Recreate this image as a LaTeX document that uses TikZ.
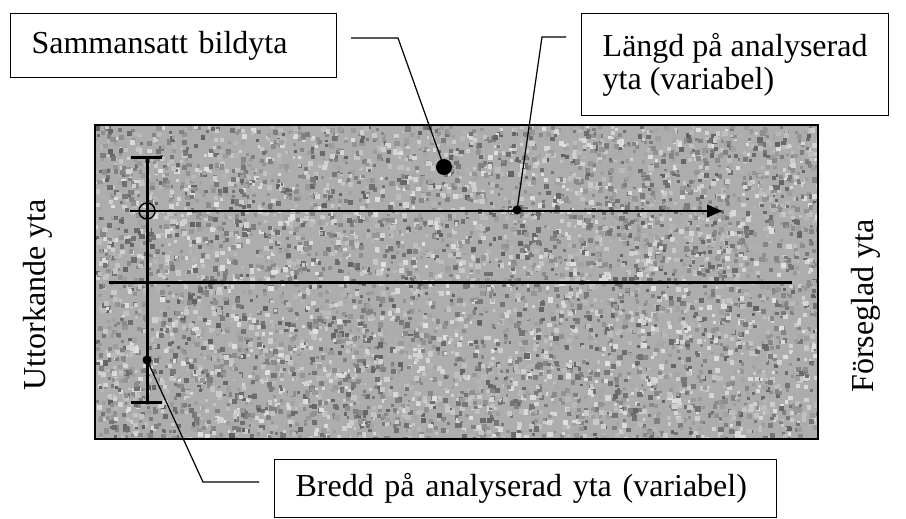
\documentclass[tikz,border=0pt]{standalone}
\usepackage{fontspec}
\setmainfont{Liberation Serif}
\usetikzlibrary{arrows.meta,positioning}

\begin{document}
\begin{tikzpicture}[x=1pt, y=-1pt,
    labelbox/.style={draw, line width=1.2pt, anchor=north west, align=left,
        inner xsep=21pt, font=\fontsize{32}{33}\selectfont},
    leader/.style={line width=1.2pt},
    sidetext/.style={rotate=90, font=\fontsize{32}{33}\selectfont}]

% Fix the size of the picture
\useasboundingbox (0,0) rectangle (906,519);

% Draw the textured sample surface
\begin{scope}
\clip (95,125) rectangle (818,439);
\fill[black!32] (95,125) rectangle (818,439);
\pgfmathsetseed{17}
\foreach \i in {1,...,7000}
{
    \pgfmathsetmacro{\px}{95+723*rnd}
    \pgfmathsetmacro{\py}{125+314*rnd}
    \pgfmathtruncatemacro{\sh}{12+50*rnd}
    \pgfmathsetmacro{\rr}{2.5+3*rnd}
    \fill[black!\sh] (\px,\py) rectangle ++(\rr,\rr);
}
\end{scope}
\draw[line width=1.8pt] (95,125) rectangle (818,439);

% Points on the surface
\coordinate (start) at (147,211);
\coordinate (mittpunkt) at (517,210);
\coordinate (breddpunkt) at (147,360);
\coordinate (ytpunkt) at (444,167);
\coordinate (pilspets) at (722,211);

% Draw the width bracket
\draw[line width=3pt] (147,157) -- (147,402);
\draw[line width=3pt] (131,157) -- (162,157);
\draw[line width=3pt] (131,402) -- (162,402);

% Draw the middle line
\draw[line width=3pt] (109,282) -- (792,282);

% Draw the length arrow
\draw[line width=1.4pt, -{Triangle[length=15pt,width=13pt]}] (130,211) -- (pilspets);
\draw[line width=1.4pt] (start) circle (8);

% Marker dots
\fill (mittpunkt) circle (4.5);
\fill (breddpunkt) circle (4.5);
\fill (ytpunkt) circle (8);

% Label boxes
\node[labelbox, text width=284pt, minimum height=64pt] (bildyta) at (10,13) {Sammansatt bildyta};
\node[labelbox, minimum width=307pt, minimum height=102pt] (langd) at (581,13) {L\"angd p\aa{} analyserad\\yta (variabel)};
\node[labelbox, text width=460pt, minimum height=58pt] (bredd) at (274,459) {Bredd p\aa{} analyserad yta (variabel)};

% Side labels
\node[sidetext] (uttorkande) at (38,295) {Uttorkande yta};
\node[sidetext] (forseglad) at (866,306) {F\"orseglad yta};

% Leader lines
\coordinate (bildytaslut) at (351,38);
\coordinate (langdslut) at (566,37);
\coordinate (breddslut) at (259,482);
\draw[leader] (bildytaslut) -- (398,38) -- (ytpunkt);
\draw[leader] (langdslut) -- (542,37) -- (mittpunkt);
\draw[leader] (breddpunkt) -- (203,482) -- (breddslut);

\end{tikzpicture}
\end{document}
